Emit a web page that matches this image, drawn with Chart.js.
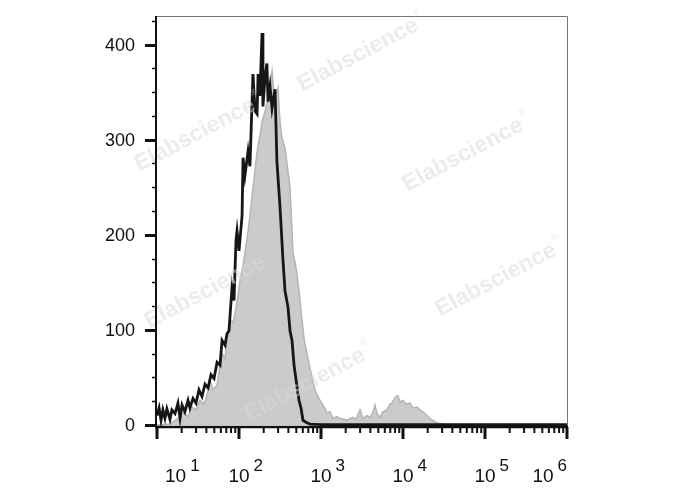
<!DOCTYPE html>
<html>
<head>
<meta charset="utf-8">
<script src="https://cdn.jsdelivr.net/npm/chart.js@4"></script>
<style>
  html, body { margin: 0; background: #fff; }
  #wrap { width: 688px; height: 490px; }
</style>
</head>
<body>
<div id="wrap"><canvas id="chart" width="688" height="490"></canvas></div>
<script>
// --- Data (fluorescence intensity vs. event count) ---
const controlX = [10, 10.6, 11.2, 11.8, 12.5, 13.2, 14.4, 15.2, 16.6, 18.0, 19.1, 20.2, 21.9, 23.9, 25.2, 27.5,
  29.9, 32.5, 35.4, 38.5, 41.9, 45.6, 49.6, 54.0, 58.7, 62.1, 67.5, 71.4, 75.5, 82.2, 86.9, 91.9, 94.6, 100,
  109, 112, 118, 129, 136, 148, 157, 166, 171, 180, 191, 196, 208, 219, 226, 239, 253, 275, 290, 316, 344,
  364, 396, 419, 443, 469, 510, 539, 570, 603, 656, 735, 1000, 1000000];
const controlCounts = [10, 18, 5, 16, 7, 17, 6, 16, 12, 23, 7, 21, 14, 26, 18, 28,
  23, 37, 30, 43, 39, 53, 49, 66, 63, 89, 84, 96, 99, 145, 131, 194, 204, 183,
  220, 281, 262, 288, 272, 369, 330, 327, 369, 346, 412, 335, 366, 380, 340, 356, 333, 353, 277, 230, 173,
  141, 124, 99, 89, 63, 40, 26, 18, 5, 3, 1, 0.5, 0.5];

const sampleX = [10, 14.4, 18.0, 20.8, 23.9, 26.7, 29.9, 33.4, 37.4, 40.7, 44.3, 48.2, 54.0, 58.7, 62.1, 67.5,
  71.4, 77.6, 84.5, 89.4, 97.3, 103, 112, 118, 129, 136, 148, 161, 171, 180, 191, 208, 226, 239, 253, 267,
  275, 299, 316, 334, 364, 396, 419, 443, 456, 482, 510, 555, 587, 621, 675, 735, 798, 869, 973, 1089, 1183,
  1288, 1401, 1567, 1706, 1905, 2075, 2259, 2458, 2674, 2994, 3253, 3640, 3963, 4308, 4560, 4822, 5248,
  5704, 6382, 6940, 7345, 7980, 8690, 9190, 10000, 10890, 12170, 13240, 14830, 16110, 17540, 19630, 21340,
  23880, 26730, 30760, 37410, 1000000];
const sampleCounts = [0, 1, 7, 13, 9, 19, 16, 26, 22, 31, 47, 37, 42, 63, 75, 70,
  89, 110, 108, 117, 136, 152, 168, 180, 204, 220, 249, 277, 295, 304, 319, 330, 343, 356, 372, 349,
  343, 354, 319, 302, 291, 267, 249, 204, 180, 171, 159, 131, 110, 91, 75, 60, 45, 34, 26, 19, 13,
  14, 7, 9, 7, 6, 5, 7, 8, 6, 16, 7, 10, 8, 14, 21, 12, 8,
  14, 16, 22, 23, 29, 31, 24, 26, 22, 23, 18, 19, 16, 14, 10, 7,
  4, 2, 1, 0, 0];

const xTickExponents = [1, 2, 3, 4, 5, 6];
const yTickLabels = [0, 100, 200, 300, 400];
const watermarkText = 'Elabscience';
const watermarkSpots = [[358, 55], [463, 155], [496, 280], [195, 135], [205, 292], [305, 385]];

const FONT = '"Liberation Sans", Arial, sans-serif';

// --- Axes, frame, ticks and watermark drawn with the chart's scales ---
const flowAxes = {
  id: 'flowAxes',
  afterDatasetsDraw(chart) {
    const ctx = chart.ctx;
    ctx.save();
    ctx.globalAlpha = 0.5;
    ctx.fillStyle = 'rgb(218,218,218)';
    ctx.textAlign = 'center';
    ctx.textBaseline = 'middle';
    watermarkSpots.forEach(([x, y]) => {
      ctx.save();
      ctx.translate(x, y);
      ctx.rotate(-28 * Math.PI / 180);
      ctx.font = 'bold 23px ' + FONT;
      ctx.fillText(watermarkText, 0, 0);
      const w = ctx.measureText(watermarkText).width;
      ctx.font = '9px ' + FONT;
      ctx.fillText('\u00AE', w / 2 + 5, -10);
      ctx.restore();
    });
    ctx.restore();
  },
  afterDraw(chart) {
    const ctx = chart.ctx;
    const a = chart.chartArea;
    const xs = chart.scales.x, ys = chart.scales.y;
    ctx.save();

    // thin frame top/right
    ctx.strokeStyle = '#777';
    ctx.lineWidth = 1;
    ctx.beginPath();
    ctx.moveTo(a.left, a.top + 0.5); ctx.lineTo(a.right + 0.5, a.top + 0.5); ctx.lineTo(a.right + 0.5, a.bottom);
    ctx.stroke();

    ctx.strokeStyle = '#111';
    ctx.lineCap = 'butt';
    // y axis line
    ctx.lineWidth = 2;
    ctx.beginPath(); ctx.moveTo(a.left - 1, a.top); ctx.lineTo(a.left - 1, a.bottom + 2); ctx.stroke();
    // x axis line
    ctx.lineWidth = 2.5;
    ctx.beginPath(); ctx.moveTo(a.left - 2, a.bottom + 1); ctx.lineTo(a.right + 1, a.bottom + 1); ctx.stroke();

    // y ticks
    for (let v = 0; v <= 425; v += 25) {
      const py = Math.round(ys.getPixelForValue(v)) + 0.5;
      const major = v % 100 === 0;
      ctx.lineWidth = major ? 3 : 1.5;
      ctx.beginPath();
      ctx.moveTo(a.left - (major ? 12 : 5), py); ctx.lineTo(a.left - 1, py);
      ctx.stroke();
    }
    ctx.fillStyle = '#111';
    ctx.font = '18px ' + FONT;
    ctx.textAlign = 'right';
    ctx.textBaseline = 'middle';
    yTickLabels.forEach(v => ctx.fillText(String(v), a.left - 22, ys.getPixelForValue(v) + 1));

    // x ticks (log decades with 2..9 minors)
    const xMin = xs.min, xMax = xs.max;
    for (let e = 1; e <= 6; e++) {
      for (let m = 1; m <= 9; m++) {
        const v = m * Math.pow(10, e);
        if (v < xMin || v > xMax * 1.0001) continue;
        const px = xs.getPixelForValue(v);
        const major = m === 1;
        ctx.lineWidth = major ? 3 : 2;
        ctx.beginPath();
        ctx.moveTo(px, a.bottom + 1); ctx.lineTo(px, a.bottom + (major ? 13 : 7));
        ctx.stroke();
      }
    }

    // x labels: 10 with superscript exponent
    ctx.textAlign = 'left';
    ctx.textBaseline = 'alphabetic';
    xTickExponents.forEach(e => {
      const px = xs.getPixelForValue(Math.pow(10, e));
      ctx.font = '19px ' + FONT;
      const wBase = ctx.measureText('10').width;
      ctx.font = '17px ' + FONT;
      const wSup = ctx.measureText(String(e)).width;
      const total = wBase + 4 + wSup;
      let x0 = px - wBase / 2;
      x0 = Math.max(a.left + 8, Math.min(a.right - total, x0));
      ctx.font = '19px ' + FONT;
      ctx.fillText('10', x0, 482);
      ctx.font = '17px ' + FONT;
      ctx.fillText(String(e), x0 + wBase + 4, 471);
    });

    ctx.restore();
  }
};

const toPoints = (xs, ys) => xs.map((x, i) => ({ x, y: ys[i] }));

new Chart(document.getElementById('chart').getContext('2d'), {
  type: 'line',
  data: {
    datasets: [
      {
        label: 'Control',
        data: toPoints(controlX, controlCounts),
        borderColor: '#161616', borderWidth: 2.8,
        fill: false, pointRadius: 0, tension: 0
      },
      {
        label: 'Sample',
        data: toPoints(sampleX, sampleCounts),
        borderColor: '#b4b4b4', backgroundColor: '#cbcbcb', borderWidth: 1.5,
        fill: 'origin', pointRadius: 0, tension: 0
      }
    ]
  },
  options: {
    responsive: false,
    animation: false,
    layout: { padding: { left: 157, right: 121, top: 16, bottom: 64 } },
    plugins: { legend: { display: false }, tooltip: { enabled: false } },
    scales: {
      x: { type: 'logarithmic', min: 10, max: 1000000, display: false },
      y: { type: 'linear', min: -1, max: 430, display: false }
    }
  },
  plugins: [flowAxes]
});
</script>
</body>
</html>
